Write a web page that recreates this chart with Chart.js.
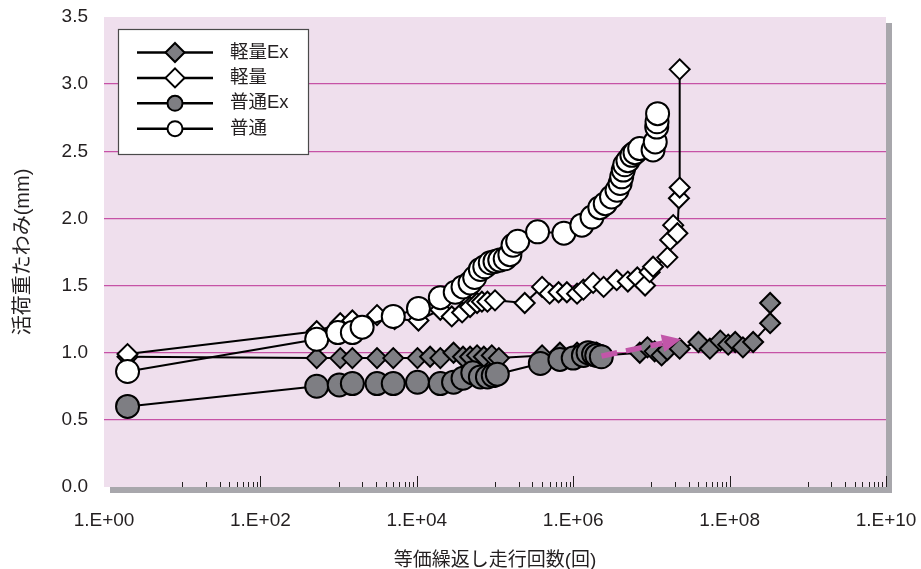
<!DOCTYPE html>
<html lang="ja">
<head>
<meta charset="utf-8">
<title>活荷重たわみ</title>
<script src="https://cdn.jsdelivr.net/npm/chart.js@4.4.1/dist/chart.umd.min.js"></script>
<style>
  html, body { margin: 0; padding: 0; background: #fff; }
  #wrap { width: 921px; height: 569px; }
</style>
</head>
<body>
<div id="wrap"><canvas id="deflectionChart" width="921" height="569"></canvas></div>
<script>
// ----- Data: 等価繰返し走行回数 (N) vs 活荷重たわみ (mm) -----
const seriesNames = ['軽量Ex', '軽量', '普通Ex', '普通'];

const lightExN = [2, 525, 1050, 1500, 3100, 5000, 10200, 14800, 20000, 29500, 39000, 48000, 59000, 72000, 91000, 112000,
  400000, 676000, 1120000, 1350000, 1660000, 2000000, 2400000, 7100000, 8900000, 11000000, 13500000, 16000000,
  23000000, 40000000, 56000000, 76000000, 96000000, 118000000, 148000000, 200000000, 330000000, 330000000];
const lightExD = [0.97, 0.96, 0.96, 0.96, 0.96, 0.96, 0.96, 0.97, 0.96, 1.00, 0.97, 0.97, 0.98, 0.97, 0.98, 0.96,
  0.98, 1.00, 1.00, 0.99, 0.98, 1.00, 0.98, 1.00, 1.04, 1.01, 0.98, 1.02,
  1.03, 1.08, 1.03, 1.09, 1.06, 1.08, 1.04, 1.08, 1.22, 1.37];

const lightN = [2, 525, 1050, 1500, 3100, 5200, 10500, 20000, 28000, 38000, 48000, 59000, 68000, 80000, 100000,
  240000, 400000, 500000, 650000, 830000, 1120000, 1350000, 1800000, 2450000, 3600000, 5000000, 6600000,
  8300000, 9500000, 10500000, 16000000, 17400000, 19000000, 21500000, 22500000, 23000000, 23000000];
const lightD = [0.99, 1.16, 1.22, 1.24, 1.28, 1.25, 1.24, 1.32, 1.27, 1.30, 1.34, 1.37, 1.38, 1.38, 1.39,
  1.37, 1.49, 1.44, 1.45, 1.45, 1.44, 1.47, 1.52, 1.49, 1.54, 1.53, 1.56,
  1.50, 1.60, 1.64, 1.71, 1.84, 1.95, 1.89, 2.15, 2.23, 3.11];

const normalExN = [2, 525, 1020, 1500, 3100, 5000, 10200, 20000, 29500, 39000, 52000, 65000, 80000, 95000, 107000,
  380000, 676000, 1000000, 1350000, 1550000, 1820000, 2000000, 2290000];
const normalExD = [0.60, 0.75, 0.76, 0.77, 0.77, 0.77, 0.78, 0.77, 0.78, 0.81, 0.85, 0.82, 0.82, 0.83, 0.84,
  0.92, 0.95, 0.96, 0.98, 1.00, 0.99, 0.98, 0.97];

const normalN = [2, 525, 980, 1500, 2000, 5000, 10500, 20000, 31000, 39000, 48000, 55000, 65000, 74000, 87000,
  100000, 115000, 135000, 155000, 170000, 195000, 350000, 760000, 1290000, 1740000, 2190000, 2570000,
  3090000, 3630000, 3980000, 4170000, 4370000, 4570000, 5010000, 5620000, 6170000, 7080000,
  10500000, 11200000, 11700000, 11800000, 12000000];
const normalD = [0.86, 1.10, 1.15, 1.15, 1.19, 1.27, 1.33, 1.41, 1.45, 1.49, 1.52, 1.56, 1.62, 1.64, 1.67,
  1.68, 1.69, 1.70, 1.73, 1.80, 1.83, 1.90, 1.89, 1.95, 2.01, 2.08, 2.11,
  2.16, 2.21, 2.26, 2.31, 2.36, 2.40, 2.43, 2.47, 2.49, 2.52,
  2.51, 2.57, 2.68, 2.72, 2.78];

const xTickValues = [1, 1e2, 1e4, 1e6, 1e8, 1e10];
const xTickLabels = ['1.E+00', '1.E+02', '1.E+04', '1.E+06', '1.E+08', '1.E+10'];
const yTickValues = [0, 0.5, 1.0, 1.5, 2.0, 2.5, 3.0, 3.5];

// trend arrow drawn over the Ex series
const trendArrow = { from: [2.3e6, 0.975], to: [2.4e7, 1.10] };

// ----- Styles -----
const FONT = '"Liberation Sans", "Noto Sans CJK JP", Arial, sans-serif';
const INK = '#231f20';
const GREY = '#7e7e83';
const PLOT_BG = '#efdfed';
const SHADOW = '#a8a7ac';
const GRID = '#c652a6';

Chart.defaults.font.family = FONT;
Chart.defaults.color = INK;

const toPoints = (ns, ds) => ns.map((n, i) => ({ x: n, y: ds[i] }));

function series(label, ns, ds, shape, fill, order) {
  return {
    label,
    data: toPoints(ns, ds),
    showLine: true,
    tension: 0,
    borderColor: '#000',
    borderWidth: 2,
    pointStyle: shape,
    pointRadius: shape === 'circle' ? 11.5 : 10,
    pointBackgroundColor: fill,
    pointBorderColor: '#000',
    pointBorderWidth: 2,
    order,
  };
}

const datasets = [
  series(seriesNames[0], lightExN, lightExD, 'rectRot', GREY, 3),
  series(seriesNames[1], lightN, lightD, 'rectRot', '#fff', 2),
  series(seriesNames[2], normalExN, normalExD, 'circle', GREY, 1),
  series(seriesNames[3], normalN, normalD, 'circle', '#fff', 0),
];

// ----- Plugins -----
const plotBackground = {
  id: 'plotBackground',
  beforeDraw(chart) {
    const { ctx, chartArea: a } = chart;
    ctx.save();
    ctx.fillStyle = SHADOW;
    ctx.fillRect(a.left + 6, a.top + 6, a.right - a.left, a.bottom - a.top);
    ctx.fillStyle = PLOT_BG;
    ctx.fillRect(a.left, a.top, a.right - a.left, a.bottom - a.top);
    ctx.restore();
  },
};

// inward tick marks along the bottom edge of the plot
const logTicks = {
  id: 'logTicks',
  beforeDatasetsDraw(chart) {
    const { ctx, chartArea: a, scales: { x } } = chart;
    ctx.save();
    ctx.strokeStyle = INK;
    ctx.lineWidth = 1;
    const mark = (v, len) => {
      const px = Math.round(x.getPixelForValue(v)) + 0.5;
      ctx.beginPath();
      ctx.moveTo(px, a.bottom);
      ctx.lineTo(px, a.bottom - len);
      ctx.stroke();
    };
    for (let i = 0; i < xTickValues.length - 1; i++) {
      const odd = xTickValues[i] * 10;
      mark(odd, 5);
      for (let m = 2; m <= 9; m++) mark(odd * m, 5);
      mark(xTickValues[i + 1], 11);
    }
    ctx.restore();
  },
};

const trendArrowPlugin = {
  id: 'trendArrow',
  afterDatasetsDraw(chart) {
    const { ctx, scales: { x, y } } = chart;
    const x0 = x.getPixelForValue(trendArrow.from[0]), y0 = y.getPixelForValue(trendArrow.from[1]);
    const x1 = x.getPixelForValue(trendArrow.to[0]), y1 = y.getPixelForValue(trendArrow.to[1]);
    const len = Math.hypot(x1 - x0, y1 - y0);
    const ux = (x1 - x0) / len, uy = (y1 - y0) / len;
    const head = 19, half = 9;
    ctx.save();
    ctx.strokeStyle = '#c256a9';
    ctx.fillStyle = '#c256a9';
    ctx.lineWidth = 5.5;
    ctx.setLineDash([16, 9]);
    ctx.beginPath();
    ctx.moveTo(x0, y0);
    ctx.lineTo(x1 - ux * head, y1 - uy * head);
    ctx.stroke();
    ctx.setLineDash([]);
    const bx = x1 - ux * head, by = y1 - uy * head;
    ctx.beginPath();
    ctx.moveTo(x1, y1);
    ctx.lineTo(bx - uy * half, by + ux * half);
    ctx.lineTo(bx + uy * half, by - ux * half);
    ctx.closePath();
    ctx.fill();
    ctx.restore();
  },
};

// boxed legend with a line running through each marker
const boxLegend = {
  id: 'boxLegend',
  afterDraw(chart) {
    const { ctx, chartArea: a } = chart;
    const bx = a.left + 14.5, by = a.top + 12.5, bw = 190, bh = 125;
    ctx.save();
    ctx.fillStyle = '#fff';
    ctx.fillRect(bx, by, bw, bh);
    ctx.strokeStyle = '#4a4a4a';
    ctx.lineWidth = 1.2;
    ctx.strokeRect(bx, by, bw, bh);
    ctx.font = `18.5px ${FONT}`;
    ctx.textBaseline = 'middle';
    chart.data.datasets.forEach((ds, i) => {
      const cy = by + 23 + i * 25.4;
      const cx = bx + 56.5;
      ctx.strokeStyle = '#000';
      ctx.lineWidth = 2.5;
      ctx.beginPath();
      ctx.moveTo(bx + 18.5, cy);
      ctx.lineTo(bx + 94.5, cy);
      ctx.stroke();
      ctx.fillStyle = ds.pointBackgroundColor;
      ctx.lineWidth = 2;
      ctx.beginPath();
      if (ds.pointStyle === 'circle') {
        ctx.arc(cx, cy, 7.5, 0, Math.PI * 2);
      } else {
        ctx.moveTo(cx, cy - 9.5);
        ctx.lineTo(cx + 9.5, cy);
        ctx.lineTo(cx, cy + 9.5);
        ctx.lineTo(cx - 9.5, cy);
        ctx.closePath();
      }
      ctx.fill();
      ctx.stroke();
      ctx.fillStyle = INK;
      ctx.fillText(ds.label, bx + 111.5, cy);
    });
    ctx.restore();
  },
};

// ----- Chart -----
new Chart(document.getElementById('deflectionChart'), {
  type: 'scatter',
  data: { datasets },
  options: {
    responsive: false,
    animation: false,
    events: [],
    layout: { padding: { top: 17, right: 35, left: 0, bottom: 0 } },
    plugins: { legend: { display: false }, tooltip: { enabled: false } },
    scales: {
      x: {
        type: 'logarithmic',
        min: 1,
        max: 1e10,
        afterBuildTicks: s => { s.ticks = xTickValues.map(value => ({ value })); },
        afterFit: s => { s.height = 82; s.paddingLeft = 0; s.paddingRight = 0; },
        grid: { display: false, drawTicks: false },
        border: { display: false },
        ticks: {
          autoSkip: false,
          maxRotation: 0,
          padding: 22,
          font: { size: 19 },
          callback: (v, i) => xTickLabels[i],
        },
        title: {
          display: true,
          text: '等価繰返し走行回数(回)',
          font: { size: 19, lineHeight: 1 },
          padding: { top: 0, bottom: -1 },
        },
      },
      y: {
        min: 0,
        max: 3.5,
        afterBuildTicks: s => { s.ticks = yTickValues.map(value => ({ value })); },
        afterFit: s => { s.width = 104; s.paddingTop = 0; s.paddingBottom = 0; },
        grid: {
          drawTicks: false,
          lineWidth: 1.3,
          color: c => (c.tick && (c.tick.value === 0 || c.tick.value === 3.5)) ? 'rgba(0,0,0,0)' : GRID,
        },
        border: { display: false },
        ticks: {
          padding: 16,
          font: { size: 19 },
          callback: v => v.toFixed(1),
        },
        title: {
          display: true,
          text: '活荷重たわみ(mm)',
          font: { size: 20 },
          padding: { top: 11, bottom: 0 },
        },
      },
    },
  },
  plugins: [plotBackground, logTicks, trendArrowPlugin, boxLegend],
});
</script>
</body>
</html>
